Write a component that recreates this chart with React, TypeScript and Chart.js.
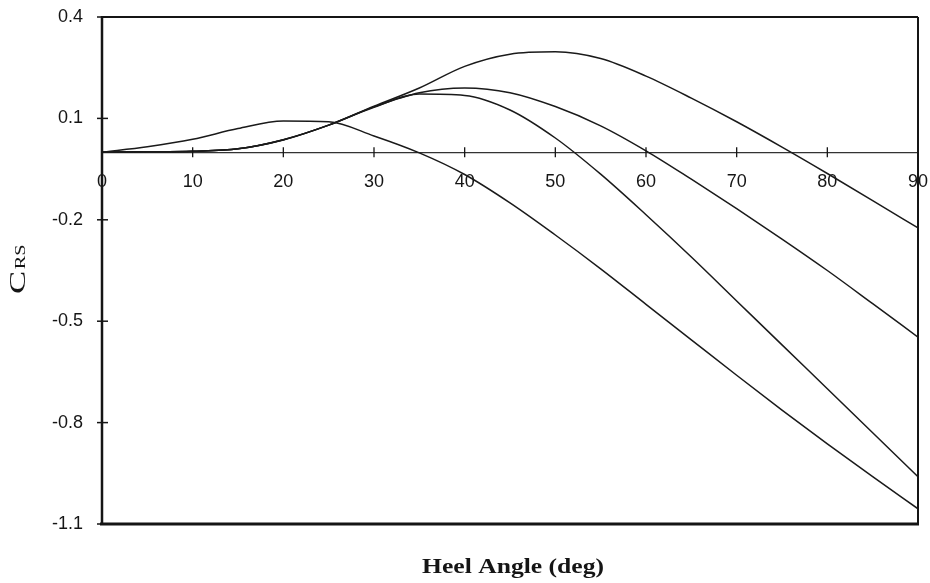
import React, { useEffect, useRef } from "react";
import { Chart, registerables } from "chart.js";

Chart.register(...registerables);

const angles = [0, 5, 10, 15, 20, 25, 30, 35, 40, 45, 50, 55, 60, 65, 70, 75, 80, 85, 90];
const seriesA = [0, 0.016, 0.038, 0.07, 0.092, 0.09, 0.048, -0.002, -0.066, -0.15, -0.245, -0.345, -0.45, -0.555, -0.66, -0.763, -0.863, -0.96, -1.055];
const seriesB = [0, 0.001, 0.003, 0.01, 0.036, 0.08, 0.133, 0.172, 0.168, 0.125, 0.042, -0.065, -0.185, -0.31, -0.44, -0.57, -0.7, -0.83, -0.96];
const seriesC = [0, 0.001, 0.003, 0.01, 0.037, 0.08, 0.134, 0.176, 0.19, 0.176, 0.135, 0.078, 0.004, -0.08, -0.167, -0.257, -0.35, -0.448, -0.547];
const seriesD = [0, 0.001, 0.003, 0.01, 0.037, 0.08, 0.136, 0.19, 0.254, 0.29, 0.297, 0.277, 0.225, 0.16, 0.09, 0.015, -0.063, -0.143, -0.224];
const yTickValues = [0.4, 0.1, -0.2, -0.5, -0.8, -1.1];
const xTickValues = [0, 10, 20, 30, 40, 50, 60, 70, 80, 90];
const xTitle = "Heel Angle (deg)";
const yTitleMain = "C";
const yTitleSub = "RS";

const INK = "#151515";

const framePlugin = {
  id: "frame",
  afterDraw(chart: any) {
    const { ctx, chartArea } = chart;
    const { left, right, top, bottom } = chartArea;
    const xs = chart.scales.x;
    const ys = chart.scales.y;
    ctx.save();
    ctx.strokeStyle = INK;
    ctx.lineWidth = 2;
    ctx.beginPath();
    ctx.moveTo(left, top);
    ctx.lineTo(right, top);
    ctx.stroke();
    ctx.beginPath();
    ctx.moveTo(right, top);
    ctx.lineTo(right, bottom);
    ctx.stroke();
    ctx.lineWidth = 2.5;
    ctx.beginPath();
    ctx.moveTo(left, top - 1);
    ctx.lineTo(left, bottom + 1);
    ctx.stroke();
    ctx.lineWidth = 3;
    ctx.beginPath();
    ctx.moveTo(left - 2, bottom);
    ctx.lineTo(right + 1, bottom);
    ctx.stroke();
    ctx.lineWidth = 1.5;
    yTickValues.forEach((v) => {
      const y = ys.getPixelForValue(v);
      ctx.beginPath();
      ctx.moveTo(left - 5, y);
      ctx.lineTo(left + 6, y);
      ctx.stroke();
    });
    const y0 = ys.getPixelForValue(0);
    ctx.lineWidth = 1.3;
    xTickValues.forEach((v) => {
      if (v === 0 || v === 90) return;
      const x = xs.getPixelForValue(v);
      ctx.beginPath();
      ctx.moveTo(x, y0 - 5);
      ctx.lineTo(x, y0 + 5);
      ctx.stroke();
    });
    ctx.fillStyle = INK;
    ctx.font = "bold 20px 'Liberation Serif', serif";
    ctx.textBaseline = "alphabetic";
    ctx.textAlign = "center";
    ctx.save();
    ctx.translate((left + right) / 2 + 3, 573);
    ctx.scale(1.28, 1);
    ctx.fillText(xTitle, 0, 0);
    ctx.restore();
    ctx.save();
    ctx.translate(25, 294);
    ctx.rotate(-Math.PI / 2);
    ctx.scale(1.45, 1);
    ctx.textAlign = "left";
    ctx.font = "24px 'Liberation Serif', serif";
    ctx.fillText(yTitleMain, 0, 0);
    const w = ctx.measureText(yTitleMain).width;
    ctx.font = "14px 'Liberation Serif', serif";
    ctx.fillText(yTitleSub, w + 1, 0);
    ctx.restore();
    ctx.restore();
  },
};

function makeDataset(values: number[]) {
  return {
    data: angles.map((a, i) => ({ x: a, y: values[i] })),
    borderColor: "#1a1a1a",
    borderWidth: 1.5,
    pointRadius: 0,
    fill: false,
    cubicInterpolationMode: "monotone" as const,
  };
}

export default function App() {
  const canvasRef = useRef<HTMLCanvasElement | null>(null);

  useEffect(() => {
    document.body.style.margin = "0";
    document.body.style.background = "#ffffff";
    const canvas = canvasRef.current;
    if (!canvas) return;
    const chart = new Chart(canvas, {
      type: "line",
      data: {
        datasets: [makeDataset(seriesA), makeDataset(seriesB), makeDataset(seriesC), makeDataset(seriesD)],
      },
      options: {
        animation: false,
        responsive: true,
        maintainAspectRatio: false,
        layout: { padding: { top: 17, right: 12, bottom: 59, left: 0 } },
        plugins: {
          legend: { display: false },
          tooltip: { enabled: false },
          title: { display: false },
        },
        scales: {
          x: {
            type: "linear",
            position: { y: 0 } as any,
            min: 0,
            max: 90,
            afterBuildTicks: (scale: any) => {
              scale.ticks = xTickValues.map((v) => ({ value: v }));
            },
            afterFit: (scale: any) => {
              scale.paddingLeft = 0;
              scale.paddingRight = 0;
              scale.paddingTop = 0;
              scale.paddingBottom = 0;
            },
            ticks: {
              padding: 19,
              color: INK,
              font: { family: "'Liberation Sans', Arial, sans-serif", size: 18 },
              maxRotation: 0,
              autoSkip: false,
              callback: (v: any) => String(v),
            },
            grid: { display: false, drawTicks: false },
            border: { display: true, color: "#333", width: 1.3 },
          },
          y: {
            type: "linear",
            position: "left",
            min: -1.1,
            max: 0.4,
            afterBuildTicks: (scale: any) => {
              scale.ticks = yTickValues.map((v) => ({ value: v }));
            },
            afterFit: (scale: any) => {
              scale.width = 102;
              scale.paddingTop = 0;
              scale.paddingBottom = 0;
              scale.paddingLeft = 0;
              scale.paddingRight = 0;
            },
            ticks: {
              padding: 19,
              color: INK,
              font: { family: "'Liberation Sans', Arial, sans-serif", size: 18 },
              callback: (v: any) => Number(v).toFixed(1),
            },
            grid: { display: false, drawTicks: false },
            border: { display: false },
          },
        },
      },
      plugins: [framePlugin],
    });
    return () => chart.destroy();
  }, []);

  return (
    <div style={{ width: 930, height: 583, position: "relative" }}>
      <canvas ref={canvasRef} />
    </div>
  );
}
